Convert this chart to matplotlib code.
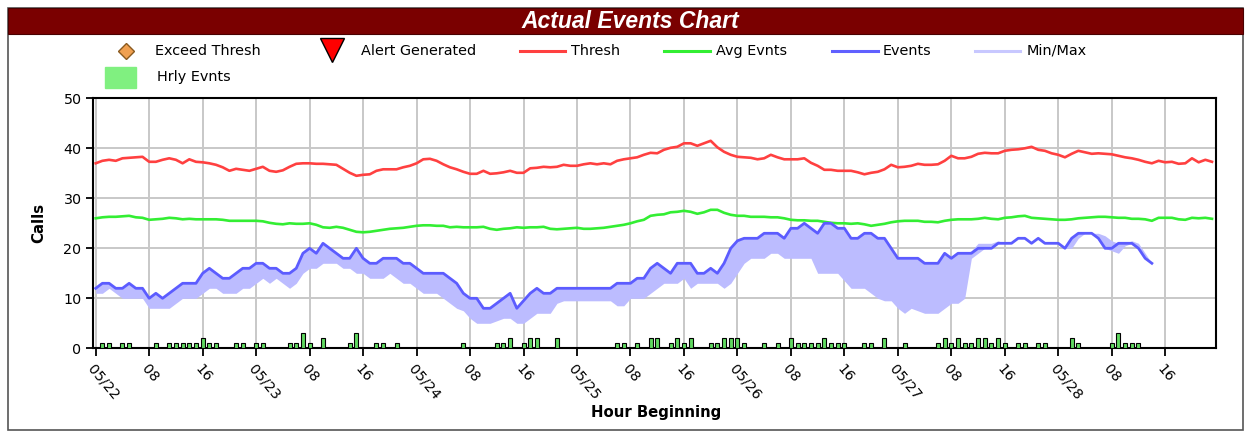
import matplotlib
matplotlib.use('Agg')
import matplotlib.pyplot as plt
from matplotlib.lines import Line2D
from matplotlib.patches import Rectangle
import numpy as np

plt.rcParams['font.family'] = ['DejaVu Sans']

# ---------------- data ----------------
tick_labels = ["05/22", "08", "16", "05/23", "08", "16", "05/24", "08", "16",
               "05/25", "08", "16", "05/26", "08", "16", "05/27", "08", "16",
               "05/28", "08", "16"]

thresh = [37.0, 37.5, 37.7, 37.5, 38.0, 38.1, 38.2, 38.3, 37.3, 37.3,
          37.7, 38.0, 37.7, 37.0, 37.8, 37.3, 37.2, 37.0, 36.7, 36.2,
          35.5, 35.9, 35.7, 35.5, 35.9, 36.3, 35.5, 35.3, 35.6, 36.3,
          36.9, 37.0, 37.0, 36.9, 36.9, 36.8, 36.7, 35.9, 35.1, 34.5,
          34.7, 34.8, 35.5, 35.8, 35.8, 35.8, 36.2, 36.5, 37.0, 37.8,
          37.9, 37.5, 36.8, 36.2, 35.8, 35.3, 34.9, 34.9, 35.5, 34.9,
          35.0, 35.2, 35.5, 35.1, 35.1, 36.0, 36.1, 36.3, 36.2, 36.3,
          36.7, 36.5, 36.5, 36.8, 37.0, 36.8, 37.0, 36.8, 37.5, 37.8,
          38.0, 38.2, 38.7, 39.1, 39.0, 39.7, 40.1, 40.3, 41.0, 41.0,
          40.5, 41.0, 41.5, 40.2, 39.3, 38.7, 38.3, 38.2, 38.1, 37.8,
          38.0, 38.7, 38.2, 37.8, 37.8, 37.8, 38.0, 37.1, 36.5, 35.7,
          35.7, 35.5, 35.5, 35.5, 35.2, 34.8, 35.1, 35.3, 35.8, 36.7,
          36.2, 36.3, 36.5, 36.9, 36.7, 36.7, 36.8, 37.5, 38.5, 38.0,
          38.0, 38.3, 38.9, 39.1, 39.0, 39.0, 39.5, 39.7, 39.8, 40.0,
          40.3, 39.7, 39.5, 39.0, 38.7, 38.2, 38.9, 39.5, 39.2, 38.9,
          39.0, 38.9, 38.8, 38.5, 38.2, 38.0, 37.7, 37.3, 37.0, 37.5,
          37.2, 37.3, 36.9, 37.0, 38.0, 37.2, 37.7, 37.3]

avg_evnts = [26.0, 26.2, 26.3, 26.3, 26.4, 26.5, 26.2, 26.1, 25.7, 25.8,
             25.9, 26.1, 26.0, 25.8, 25.9, 25.8, 25.8, 25.8, 25.8, 25.7,
             25.5, 25.5, 25.5, 25.5, 25.5, 25.4, 25.1, 24.9, 24.8, 25.0,
             24.9, 24.9, 25.0, 24.7, 24.2, 24.1, 24.3, 24.1, 23.7, 23.3,
             23.2, 23.3, 23.5, 23.7, 23.9, 24.0, 24.1, 24.3, 24.5, 24.6,
             24.6, 24.5, 24.5, 24.2, 24.3, 24.2, 24.2, 24.2, 24.3, 23.9,
             23.7, 23.9, 24.0, 24.2, 24.1, 24.2, 24.2, 24.3, 23.9, 23.8,
             23.9, 24.0, 24.1, 23.9, 23.9, 24.0, 24.1, 24.3, 24.5, 24.7,
             25.0, 25.4, 25.7, 26.5, 26.7, 26.8, 27.2, 27.3, 27.5, 27.3,
             26.9, 27.2, 27.7, 27.7, 27.1, 26.7, 26.5, 26.5, 26.3, 26.3,
             26.3, 26.2, 26.2, 26.0, 25.7, 25.6, 25.6, 25.5, 25.5, 25.3,
             25.1, 25.0, 25.0, 24.9, 25.0, 24.8, 24.5, 24.7, 24.9, 25.2,
             25.4, 25.5, 25.5, 25.5, 25.3, 25.3, 25.2, 25.5, 25.7, 25.8,
             25.8, 25.8, 25.9, 26.1, 25.9, 25.8, 26.1, 26.2, 26.4, 26.5,
             26.1, 26.0, 25.9, 25.8, 25.7, 25.7, 25.8, 26.0, 26.1, 26.2,
             26.3, 26.3, 26.2, 26.1, 26.1, 25.9, 25.9, 25.8, 25.5, 26.1,
             26.1, 26.1, 25.8, 25.7, 26.1, 26.0, 26.1, 25.9]

events = [12, 13, 13, 12, 12, 13, 12, 12, 10, 11,
          10, 11, 12, 13, 13, 13, 15, 16, 15, 14,
          14, 15, 16, 16, 17, 17, 16, 16, 15, 15,
          16, 19, 20, 19, 21, 20, 19, 18, 18, 20,
          18, 17, 17, 18, 18, 18, 17, 17, 16, 15,
          15, 15, 15, 14, 13, 11, 10, 10, 8, 8,
          9, 10, 11, 8, 9.5, 11, 12, 11, 11, 12,
          12, 12, 12, 12, 12, 12, 12, 12, 13, 13,
          13, 14, 14, 16, 17, 16, 15, 17, 17, 17,
          15, 15, 16, 15, 17, 20, 21.5, 22, 22, 22,
          23, 23, 23, 22, 24, 24, 25, 24, 23, 25,
          25, 24, 24, 22, 22, 23, 23, 22, 22, 20,
          18, 18, 18, 18, 17, 17, 17, 19, 18, 19,
          19, 19, 20, 20, 20, 21, 21, 21, 22, 22,
          21, 22, 21, 21, 21, 20, 22, 23, 23, 23,
          22, 20, 20, 21, 21, 21, 20, 18, 17]

ev_min = [11, 11, 12, 11, 10, 10, 10, 10, 8, 8,
          8, 8, 9, 10, 10, 10, 11, 12, 12, 11,
          11, 11, 12, 12, 13, 14, 13, 14, 13, 12,
          13, 15, 16, 16, 17, 17, 17, 16, 16, 15,
          15, 14, 14, 14, 15, 14, 13, 13, 12, 11,
          11, 11, 10, 9, 8, 7.5, 6, 5, 5, 5,
          5.5, 6, 6, 5, 5, 6, 7, 7, 7, 9,
          9.5, 9.5, 9.5, 9.5, 9.5, 9.5, 9.5, 9.5, 8.5, 8.5,
          10, 10, 10, 11, 12, 13, 13, 13, 14, 12,
          13, 13, 13, 13, 12, 13, 15, 17, 18, 18,
          18, 19, 19, 18, 18, 18, 18, 18, 15, 15,
          15, 15, 13.5, 12, 12, 12, 11, 10, 9.5, 9.5,
          8, 7, 8, 7.5, 7, 7, 7, 8, 9, 9,
          10, 18, 19, 20, 20.5, 21, 21, 21, 22, 22,
          21, 22, 21, 21, 21, 20, 20, 22, 23, 23,
          22, 20, 19.5, 19, 20.5, 21, 20, 18, 17]

ev_max = [12, 13, 13, 12, 12, 13, 12, 12, 10, 11,
          10, 11, 12, 13, 13, 13, 15, 16, 15, 14,
          14, 15, 16, 16, 17, 17, 16, 16, 15, 15,
          16, 19, 20, 19, 21, 20, 19, 18, 18, 20,
          18, 17, 17, 18, 18, 18, 17, 17, 16, 15,
          15, 15, 15, 14, 13, 11, 10, 10, 8, 8,
          9, 10, 11, 8, 9.5, 11, 12, 11, 11, 12,
          12, 12, 12, 12, 12, 12, 12, 12, 13, 13,
          13, 14, 14, 16, 17, 16, 15, 17, 17, 17,
          15, 15, 16, 15, 17, 20, 21.5, 22, 22, 22,
          23, 23, 23, 22, 24, 24, 25, 24, 23, 25,
          25, 24, 24, 22, 22, 23, 23, 22, 22, 20,
          18, 18, 18, 18, 17, 17, 17, 19, 18, 19,
          19, 19.5, 21, 21, 21, 21.5, 21, 21, 22, 22,
          21, 22, 21, 21, 21, 20, 22, 23, 23, 23,
          23, 22.5, 21.5, 21, 21, 21.5, 21, 19, 17]

hrly_hours = [1, 2, 4, 5, 9, 11, 12, 13, 14, 15, 16, 17, 18, 21, 22, 24, 25,
              29, 30, 31, 32, 34, 38, 39, 42, 43, 45, 55, 60, 61, 62, 64, 65,
              66, 69, 78, 79, 81, 83, 84, 86, 87, 88, 89, 92, 93, 94, 95, 96,
              97, 100, 102, 104, 105, 106, 107, 108, 109, 110, 111, 112, 115,
              116, 118, 121, 126, 127, 128, 129, 130, 131, 132, 133, 134, 135,
              136, 138, 139, 141, 142, 146, 147, 152, 153, 154, 155, 156]
hrly_counts = [1, 1, 1, 1, 1, 1, 1, 1, 1, 1, 2, 1, 1, 1, 1, 1, 1,
               1, 1, 3, 1, 2, 1, 3, 1, 1, 1, 1, 1, 1, 2, 1, 2,
               2, 2, 1, 1, 1, 2, 2, 1, 2, 1, 2, 1, 1, 2, 2, 2,
               1, 1, 1, 2, 1, 1, 1, 1, 2, 1, 1, 1, 1,
               1, 2, 1, 1, 2, 1, 2, 1, 1, 2, 2, 1, 2,
               1, 1, 1, 1, 1, 2, 1, 1, 3, 1, 1, 1]

# ---------------- figure ----------------
W, H = 1251, 433
fig = plt.figure(figsize=(W / 100, H / 100), dpi=100)
fig.patch.set_facecolor('white')


def fx(px):
    return px / W


def fy(py):
    return 1 - py / H


# outer frame and title bar
fig.patches.append(Rectangle((fx(8), fy(430)), fx(1243 - 8), (430 - 8) / H,
                             transform=fig.transFigure, facecolor='none',
                             edgecolor='#555555', lw=1.2, zorder=0))
fig.patches.append(Rectangle((fx(8), fy(34)), fx(1243 - 8), (34 - 8) / H,
                             transform=fig.transFigure, facecolor='#7a0000',
                             edgecolor='#4a0000', lw=0.8, zorder=1))
fig.text(fx(630), fy(21), "Actual Events Chart", color='white', fontsize=16.5,
         fontweight='bold', fontstyle='italic', ha='center', va='center',
         family=['Liberation Sans', 'DejaVu Sans'])

# legend (drawn manually in figure coordinates)
leg_fs = 10.4
ly = fy(51)
fig.lines.append(Line2D([fx(126)], [ly], marker='D', markersize=8,
                        markerfacecolor='#f0a050', markeredgecolor='#8a5a20',
                        markeredgewidth=1, transform=fig.transFigure))
fig.text(fx(155), ly, "Exceed Thresh", fontsize=leg_fs, va='center', ha='left')
fig.lines.append(Line2D([fx(332)], [fy(50)], marker='v', markersize=17,
                        markerfacecolor='#ff0000', markeredgecolor='black',
                        markeredgewidth=1, transform=fig.transFigure))
fig.text(fx(361), ly, "Alert Generated", fontsize=leg_fs, va='center', ha='left')
for x0, x1, col, lab, tx in [(520, 565, '#ff4040', 'Thresh', 571),
                             (664, 710, '#33ee33', 'Avg Evnts', 716),
                             (832, 878, '#6060ff', 'Events', 883),
                             (975, 1020, '#c8c8ff', 'Min/Max', 1027)]:
    fig.lines.append(Line2D([fx(x0), fx(x1)], [ly, ly], color=col, lw=2.2,
                            transform=fig.transFigure))
    fig.text(fx(tx), ly, lab, fontsize=leg_fs, va='center', ha='left')
fig.patches.append(Rectangle((fx(105), fy(88)), fx(136 - 105), (88 - 67) / H,
                             transform=fig.transFigure, facecolor='#80f080',
                             edgecolor='#80f080', zorder=2))
fig.text(fx(157), fy(77), "Hrly Evnts", fontsize=leg_fs, va='center', ha='left')

# ---------------- axes ----------------
ax = fig.add_axes([fx(92.7), fy(348.3), fx(1215.7 - 92.7), (348.3 - 98.3) / H])
x_ev = np.arange(len(events))
x_th = np.arange(len(thresh))

ax.fill_between(x_ev, ev_min, ev_max, color='#bcbcff', lw=0, zorder=2)
ax.bar(hrly_hours, hrly_counts, width=0.6, color='#60d860', edgecolor='black',
       linewidth=0.8, zorder=3)
ax.plot(x_th, thresh, color='#ff4040', lw=1.9, zorder=4)
ax.plot(np.arange(len(avg_evnts)), avg_evnts, color='#33ee33', lw=1.9, zorder=4)
ax.plot(x_ev, events, color='#5c5cff', lw=2.0, zorder=5)

ax.set_xlim(-0.45, 167.55)
ax.set_ylim(0, 50)
ax.set_yticks([0, 10, 20, 30, 40, 50])
xt = np.arange(0, 161, 8)
ax.set_xticks(xt)
ax.set_xticklabels(tick_labels, rotation=-50, ha='left', va='top',
                   rotation_mode='anchor', fontsize=10.3)
ax.tick_params(axis='y', labelsize=10.3, length=5, width=1.3, pad=3)
ax.tick_params(axis='x', length=6, width=1.3, pad=4)
ax.grid(True, color='#c8c8c8', lw=1.4, zorder=0)
ax.set_axisbelow(True)
for sp in ax.spines.values():
    sp.set_linewidth(1.5)
    sp.set_color('black')

ax.set_ylabel("Calls", fontsize=10.7, fontweight='bold', labelpad=8)
ax.yaxis.set_label_coords(fx(46 - 92.7) / fx(1123), 0.5)
fig.text(fx(656), fy(412), "Hour Beginning", fontsize=10.7, fontweight='bold',
         ha='center', va='center')

fig.savefig('out.png', dpi=100)
